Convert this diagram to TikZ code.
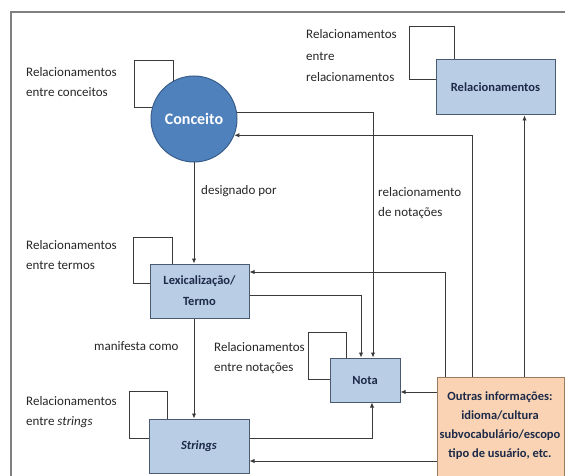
\documentclass[tikz,border=0pt]{standalone}
\usepackage{fontspec}
\setmainfont{Carlito}
\usetikzlibrary{arrows.meta,calc,positioning}
\pgfdeclarelayer{background}
\pgfsetlayers{background,main}
\definecolor{linec}{HTML}{3A3A3A}
\definecolor{framec}{HTML}{808080}
\definecolor{conc}{HTML}{4F81BD}
\definecolor{concb}{HTML}{385D8A}
\definecolor{boxf}{HTML}{B9CDE5}
\definecolor{boxb}{HTML}{4A5A70}
\definecolor{boxt}{HTML}{1C2A48}
\definecolor{orf}{HTML}{FAD3B4}
\definecolor{orb}{HTML}{9C7A5C}
\definecolor{lblc}{HTML}{262626}
\begin{document}
\begin{tikzpicture}[x=1pt,y=-1pt,
  conn/.style={draw=linec,line width=0.9pt},
  arr/.style={conn,-{Latex[length=5pt,width=4.5pt]}},
  loopline/.style={draw=linec,line width=0.9pt},
  bluebox/.style={draw=boxb,fill=boxf,line width=1pt,inner sep=0pt,
    text=boxt,font=\fontsize{12.5}{20}\selectfont\bfseries,align=center},
  lbl/.style={anchor=west,inner sep=0pt,text=lblc,align=left,
    font=\fontsize{13}{20}\selectfont}]
\useasboundingbox (0,0) rectangle (565,476);
\draw[framec,line width=1.2pt] (11,490) -- (11,12) -- (580,12);

% nodes
\node[circle,draw=concb,fill=conc,line width=1pt,minimum size=86pt,inner sep=0pt,
  text=white,font=\fontsize{16}{20}\selectfont\bfseries] (conceito) at (194,119) {Conceito};
\node[bluebox,minimum width=119pt,minimum height=55pt] (relac) at (495.5,87.5) {Relacionamentos};
\node[bluebox,minimum width=99pt,minimum height=54pt,font=\fontsize{12.5}{21}\selectfont\bfseries] (lex) at (199.5,291) {Lexicalização/\\Termo};
\node[bluebox,minimum width=100pt,minimum height=54pt,font=\fontsize{12.5}{20}\selectfont\bfseries\itshape] (strings) at (199,446) {Strings};
\node[bluebox,minimum width=70pt,minimum height=44pt] (nota) at (365,380) {Nota};
\node[draw=orb,fill=orf,line width=1pt,inner sep=0pt,minimum width=127pt,minimum height=103pt,
  text=boxt,font=\fontsize{12.5}{19}\selectfont\bfseries,align=center] (outras) at (500.5,428.5) {};
\node[text=boxt,font=\fontsize{12.5}{19}\selectfont\bfseries,align=center,inner sep=0pt] (outrastxt) at (500,426)
  {Outras informações:\\idioma/cultura\\subvocabulário/escopo\\tipo de usuário, etc.};

% labels
\node[lbl] (lc) at (26,82) {Relacionamentos\\entre conceitos};
\node[lbl,font=\fontsize{13}{21.5}\selectfont] (lr) at (306,56) {Relacionamentos\\entre\\relacionamentos};
\node[lbl] (ld) at (201,191) {designado por};
\node[lbl] (lrn) at (378,203) {relacionamento\\de notações};
\node[lbl] (lt) at (26,255) {Relacionamentos\\entre termos};
\node[lbl] (lm) at (94,346) {manifesta como};
\node[lbl] (ln) at (214,358) {Relacionamentos\\entre notações};
\node[lbl] (ls) at (26,412.5) {Relacionamentos\\entre \textit{strings}};

% self loops
\begin{pgfonlayer}{background}
\draw[loopline] ($(conceito.center)+(-21,-25)$) -- (173,60) -- (134,60) -- (134,107) -- ($(conceito.center)+(-30,-12)$);
\draw[loopline] ($(relac.north west)+(19,0)$) -- ++(0,-33) -| ++(-45,53) -- ($(relac.north west)+(0,20)$);
\draw[loopline] ($(lex.north west)+(23,0)$) -- ++(0,-26) -| ++(-39,46) -- ($(lex.north west)+(0,20)$);
\draw[loopline] ($(strings.north west)+(19,0)$) -- ++(0,-27) -| ++(-38,47) -- ($(strings.north west)+(0,20)$);
\draw[loopline] ($(nota.north west)+(17,0)$) -- ++(0,-25) -| ++(-38,47) -- ($(nota.north west)+(0,22)$);
\end{pgfonlayer}

% coordinates on Outras top
\coordinate (o1) at ($(outras.north west)+(9,0)$);
\coordinate (o2) at ($(outras.north west)+(36,0)$);
\coordinate (o3) at ($(outras.north west)+(88,0)$);

% connectors
\draw[arr] (conceito.south) -- (conceito.south |- lex.north);
\draw[arr] (lex.south -| conceito.south) -- (strings.north -| conceito.south);
\draw[arr] (conceito.8) -| ($(nota.north)+(8,0)$);
\draw[arr] ($(lex.east)+(0,4)$) -| ($(nota.north)+(-4,0)$);
\draw[arr] (o1) |- ($(lex.east)+(0,-19)$);
\draw[arr] (o2) |- (conceito.-22);
\draw[arr] (o3) -- (o3 |- relac.south);
\draw[arr] (outras.west |- {$(nota.east)+(0,12)$}) -- ($(nota.east)+(0,12)$);
\draw[arr] ($(strings.east)+(0,-8)$) -| ($(nota.south)+(7,0)$);
\draw[arr] (outras.west |- {$(strings.east)+(0,15)$}) -- ($(strings.east)+(0,15)$);
\end{tikzpicture}
\end{document}
